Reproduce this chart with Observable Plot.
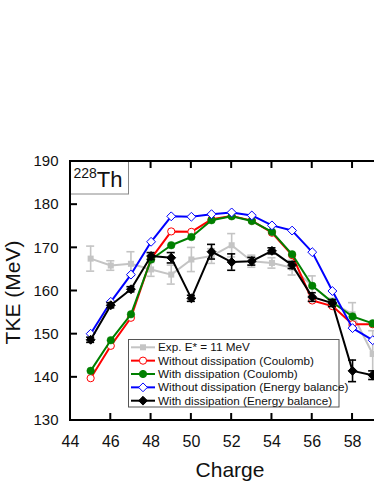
<!DOCTYPE html>
<html>
<head>
<meta charset="utf-8">
<script src="https://cdn.jsdelivr.net/npm/d3@7"></script>
<script src="https://cdn.jsdelivr.net/npm/@observablehq/plot@0.6"></script>
<style>
  html, body { margin: 0; padding: 0; background: #fff; }
  #chart { width: 374px; height: 484px; overflow: hidden; }
  svg { font-family: "Liberation Sans", Arial, sans-serif; }
</style>
</head>
<body>
<div id="chart"></div>
<script>
// ---- data ----
const charges = [45, 46, 47, 48, 49, 50, 51, 52, 53, 54, 55, 56, 57, 58, 59];
const expTKE  = [167.5, 165.9, 166.3, 165.0, 163.8, 167.3, 168.1, 170.6, 166.9, 166.5, 165.4, 161.2, 157.3, 154.6, 145.4];
const expErr  = [2.9, 1.1, 2.8, 1.6, 2.2, 2.8, 1.7, 2.7, 1.4, 1.2, 1.7, 2.3, 1.0, 2.7, 5.4];
const noDissCoulomb   = [139.8, 147.3, 153.8, 167.5, 173.8, 173.7, 176.6, 177.4, 176.3, 173.5, 168.3, 157.8, 156.5, 152.3, 152.3];
const withDissCoulomb = [141.5, 148.6, 154.6, 167.3, 170.6, 172.5, 176.4, 177.3, 176.2, 173.7, 168.5, 161.2, 157.4, 154.1, 152.5];
const noDissEnergy    = [150.1, 157.5, 163.8, 171.4, 177.3, 177.2, 177.8, 178.2, 177.5, 175.2, 174.0, 169.0, 160.0, 151.4, 148.6];
const withDissEnergy  = [148.7, 156.7, 160.4, 168.1, 167.7, 158.3, 169.1, 166.7, 166.9, 169.3, 166.0, 158.6, 157.2, 141.5, 140.5];
const withDissEnergyErr = [0.6, 0.6, 0.6, 0.8, 1.2, 0.7, 1.7, 1.9, 0.9, 0.7, 0.8, 1.0, 0.8, 2.5, 1.0];
const xTicks = [44, 46, 48, 50, 52, 54, 56, 58];
const yTicks = [130, 140, 150, 160, 170, 180, 190];
const seriesNames = [
  "Exp. E* = 11 MeV",
  "Without dissipation (Coulomb)",
  "With dissipation (Coulomb)",
  "Without dissipation (Energy balance)",
  "With dissipation (Energy balance)"
];
const nucleusMass = "228";
const nucleusSymbol = "Th";

// ---- tables ----
const exp = charges.map((c, i) => ({c, v: expTKE[i], e: expErr[i]}));
const red = charges.map((c, i) => ({c, v: noDissCoulomb[i]}));
const green = charges.map((c, i) => ({c, v: withDissCoulomb[i]}));
const blue = charges.map((c, i) => ({c, v: noDissEnergy[i]}));
const blk = charges.map((c, i) => ({c, v: withDissEnergy[i], e: withDissEnergyErr[i]}));

const GRAY = "#c4c4c4";
const capW = 0.2;

const plot = Plot.plot({
  width: 374,
  height: 484,
  marginLeft: 70,
  marginRight: 0,
  marginTop: 161,
  marginBottom: 64,
  style: {fontFamily: "Liberation Sans, Arial, sans-serif", background: "white", overflow: "hidden"},
  x: {domain: [44, 59.09], axis: null},
  y: {domain: [130, 190], axis: null},
  marks: [
    Plot.axisX({ticks: xTicks, tickSize: 0, tickPadding: 15, fontSize: 16, label: null, tickFormat: d => d, fill: "#111"}),
    Plot.axisY({ticks: yTicks, tickSize: 0, tickPadding: 12, fontSize: 15, label: null, tickFormat: d => d, fill: "#111"}),
    // experimental
    Plot.ruleX(exp, {x: "c", y1: d => d.v - d.e, y2: d => d.v + d.e, stroke: GRAY, strokeWidth: 1.6}),
    Plot.ruleY(exp, {y: d => d.v - d.e, x1: d => d.c - capW, x2: d => d.c + capW, stroke: GRAY, strokeWidth: 1.6}),
    Plot.ruleY(exp, {y: d => d.v + d.e, x1: d => d.c - capW, x2: d => d.c + capW, stroke: GRAY, strokeWidth: 1.6}),
    Plot.line(exp, {x: "c", y: "v", stroke: GRAY, strokeWidth: 2}),
    Plot.dot(exp, {x: "c", y: "v", symbol: "square", r: 3.4, fill: GRAY, stroke: "none"}),
    // red
    Plot.line(red, {x: "c", y: "v", stroke: "#ff0000", strokeWidth: 2}),
    Plot.dot(red, {x: "c", y: "v", r: 3.6, fill: "white", stroke: "#ff0000", strokeWidth: 1}),
    // green
    Plot.line(green, {x: "c", y: "v", stroke: "#008000", strokeWidth: 2}),
    Plot.dot(green, {x: "c", y: "v", r: 3.8, fill: "#008000", stroke: "#008000", strokeWidth: 0.5}),
    // blue
    Plot.line(blue, {x: "c", y: "v", stroke: "#0000ff", strokeWidth: 2}),
    Plot.dot(blue, {x: "c", y: "v", symbol: "diamond2", r: 4, fill: "white", stroke: "#0000ff", strokeWidth: 1}),
    // black
    Plot.ruleX(blk, {x: "c", y1: d => d.v - d.e, y2: d => d.v + d.e, stroke: "black", strokeWidth: 1.6}),
    Plot.ruleY(blk, {y: d => d.v - d.e, x1: d => d.c - capW, x2: d => d.c + capW, stroke: "black", strokeWidth: 1.6}),
    Plot.ruleY(blk, {y: d => d.v + d.e, x1: d => d.c - capW, x2: d => d.c + capW, stroke: "black", strokeWidth: 1.6}),
    Plot.line(blk, {x: "c", y: "v", stroke: "black", strokeWidth: 2}),
    Plot.dot(blk, {x: "c", y: "v", symbol: "diamond2", r: 4, fill: "black", stroke: "black", strokeWidth: 1})
  ]
});

document.getElementById("chart").appendChild(plot);

// ---- frame, inward ticks, labels, legend ----
const xs = plot.scale("x"), ys = plot.scale("y");
const svg = d3.select(plot);
const L = xs.apply(44), R = 374, T = ys.apply(190), B = ys.apply(130);

// nucleus label box (under the frame)
const nb = svg.append("g");
nb.append("rect").attr("x", L).attr("y", T).attr("width", 58.5).attr("height", 33)
  .attr("fill", "white").attr("stroke", "#888").attr("stroke-width", 1);
const nt = nb.append("text").attr("x", L + 3.5).attr("y", T + 25.7)
  .attr("text-anchor", "start").attr("fill", "#111");
nt.append("tspan").attr("font-size", 14).attr("dy", -8.7).text(nucleusMass);
nt.append("tspan").attr("font-size", 22).attr("dy", 8.7).text(nucleusSymbol);

const g = svg.append("g").attr("stroke", "black").attr("stroke-width", 2).attr("fill", "none");
g.append("path").attr("d", `M${R + 2},${T}H${L}V${B}H${R + 2}`);
for (const t of xTicks) {
  const px = xs.apply(t);
  g.append("line").attr("x1", px).attr("x2", px).attr("y1", B).attr("y2", B - 7);
  if (px > L + 60) g.append("line").attr("x1", px).attr("x2", px).attr("y1", T).attr("y2", T + 7);
}
for (const t of yTicks) {
  const py = ys.apply(t);
  if (py > T + 34) g.append("line").attr("x1", L).attr("x2", L + 7).attr("y1", py).attr("y2", py);
}

// axis titles
svg.append("text").attr("x", 230).attr("y", 477).attr("text-anchor", "middle")
  .attr("font-size", 21).attr("fill", "#111").text("Charge");
svg.append("text").attr("transform", `translate(20,${(T + B) / 2 + 2}) rotate(-90)`)
  .attr("text-anchor", "middle").attr("font-size", 21).attr("fill", "#111").text("TKE (MeV)");

// legend
const lg = svg.append("g");
lg.append("rect").attr("x", 128.5).attr("y", 339.5).attr("width", 210.5).attr("height", 67.5)
  .attr("fill", "white").attr("stroke", "#555").attr("stroke-width", 1);
const styles = [
  {stroke: GRAY, sym: "square", fill: GRAY},
  {stroke: "#ff0000", sym: "circle", fill: "white"},
  {stroke: "#008000", sym: "circle", fill: "#008000"},
  {stroke: "#0000ff", sym: "diamond", fill: "white"},
  {stroke: "black", sym: "diamond", fill: "black"}
];
seriesNames.forEach((name, i) => {
  const cy = 347.3 + i * 13.35;
  const s = styles[i];
  lg.append("line").attr("x1", 131).attr("x2", 155).attr("y1", cy).attr("y2", cy)
    .attr("stroke", s.stroke).attr("stroke-width", 2);
  if (s.sym === "square") {
    lg.append("rect").attr("x", 140).attr("y", cy - 3).attr("width", 6).attr("height", 6).attr("fill", s.fill);
  } else if (s.sym === "circle") {
    lg.append("circle").attr("cx", 143).attr("cy", cy).attr("r", 3.6).attr("fill", s.fill).attr("stroke", s.stroke).attr("stroke-width", 1);
  } else {
    lg.append("path").attr("d", `M143,${cy - 4.4}L147.4,${cy}L143,${cy + 4.4}L138.6,${cy}Z`)
      .attr("fill", s.fill).attr("stroke", s.stroke).attr("stroke-width", 1);
  }
  lg.append("text").attr("x", 158).attr("y", cy).attr("dy", "0.35em")
    .attr("text-anchor", "start").attr("font-size", 11.7).attr("fill", "#111").text(name);
});
</script>
</body>
</html>
